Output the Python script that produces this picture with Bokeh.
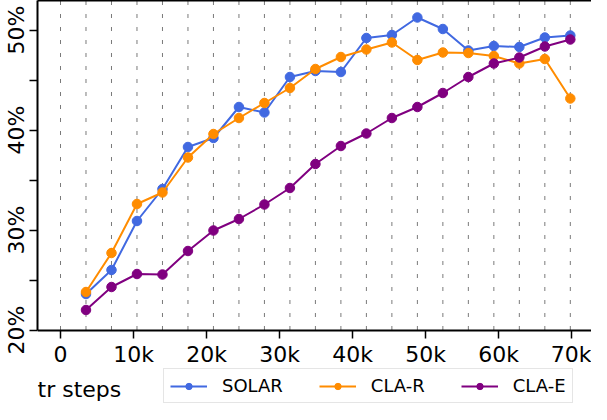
import math
from bokeh.plotting import figure
from bokeh.models import (Range1d, FixedTicker, PrintfTickFormatter, LinearAxis,
                          Legend, LegendItem, Label)
from bokeh.embed import file_html
from bokeh.resources import INLINE

# ---- data ----
steps = [3490, 6980, 10470, 13960, 17450, 20940, 24430, 27920, 31410, 34900,
         38390, 41880, 45370, 48860, 52350, 55840, 59330, 62820, 66310, 69800]
grid_steps = [0] + steps
solar = [23.6, 26.0, 30.9, 34.1, 38.3, 39.2, 42.3, 41.75, 45.3, 45.9,
         45.8, 49.2, 49.5, 51.25, 50.1, 47.95, 48.4, 48.3, 49.25, 49.45]
cla_r = [23.8, 27.7, 32.6, 33.75, 37.25, 39.6, 41.2, 42.7, 44.2, 46.1,
         47.3, 48.05, 48.75, 47.0, 47.75, 47.7, 47.4, 46.65, 47.1, 43.15]
cla_e = [22.0, 24.3, 25.6, 25.55, 27.9, 29.95, 31.1, 32.55, 34.2, 36.6,
         38.4, 39.65, 41.2, 42.3, 43.7, 45.3, 46.65, 47.25, 48.35, 49.05]
series_names = ["SOLAR", "CLA-R", "CLA-E"]
series_colors = ["#4169E1", "#FF8C00", "#800080"]
x_ticks = [0, 10000, 20000, 30000, 40000, 50000, 60000, 70000]
x_tick_labels = ["0", "10k", "20k", "30k", "40k", "50k", "60k", "70k"]
y_ticks = [20, 30, 40, 50]
y_minor_ticks = [25, 35, 45]
x_label = "tr steps"

FONT = "DejaVu Sans"
Y_AXIS_AT = 20.0   # x axis sits at 20%
Y_LO, Y_HI = 12.55, 52.95
X_LO, X_HI = -3150, 72700

p = figure(width=591, height=404, x_range=Range1d(X_LO, X_HI), y_range=Range1d(Y_LO, Y_HI),
           output_backend="svg", toolbar_location=None,
           min_border_left=0, min_border_right=0, min_border_top=0, min_border_bottom=0)
p.outline_line_color = None
p.background_fill_color = "white"
p.border_fill_color = "white"

# x axis (fixed at 20%)
xa = p.below[0]
xa.fixed_location = Y_AXIS_AT
xa.ticker = FixedTicker(ticks=x_ticks)
xa.major_label_overrides = {t: l for t, l in zip(x_ticks, x_tick_labels)}
xa.major_label_text_font = FONT
xa.major_label_text_font_size = "22px"
xa.major_label_text_color = "black"
xa.major_label_standoff = 4
xa.major_tick_out = 8
xa.major_tick_in = 0
xa.major_tick_line_width = 1.5
xa.minor_tick_line_color = None
xa.axis_line_width = 2

# y axis
ya = p.left[0]
ya.bounds = (Y_AXIS_AT, Y_HI)
ya.ticker = FixedTicker(ticks=y_ticks, minor_ticks=y_minor_ticks)
ya.formatter = PrintfTickFormatter(format="%d%%")
ya.major_label_orientation = "parallel"
ya.major_label_text_font = FONT
ya.major_label_text_font_size = "22px"
ya.major_label_text_color = "black"
ya.major_label_standoff = 1
ya.major_tick_out = 8
ya.major_tick_in = 0
ya.minor_tick_out = 8
ya.minor_tick_in = 0
ya.major_tick_line_width = 1.5
ya.minor_tick_line_width = 1.5
ya.axis_line_width = 2

# top spine
top = LinearAxis(ticker=FixedTicker(ticks=[]), major_label_text_font_size="0px",
                 major_tick_line_color=None, minor_tick_line_color=None,
                 axis_line_width=2, major_label_standoff=0)
p.add_layout(top, "above")

# grids: vertical dashed lines at each evaluation step, only inside the axes box
p.ygrid.grid_line_color = None
p.xgrid.grid_line_color = None
p.segment(x0=grid_steps, y0=[Y_AXIS_AT] * len(grid_steps),
          x1=grid_steps, y1=[Y_HI] * len(grid_steps),
          line_color="#7a7a7a", line_width=1, line_dash="4 9")

items = []
for name, vals, col in zip(series_names, [solar, cla_r, cla_e], series_colors):
    l = p.line(steps, vals, line_color=col, line_width=2)
    s = p.scatter(steps, vals, size=9.5, fill_color=col, line_color=col)
    items.append(LegendItem(label=name, renderers=[l, s]))

legend = Legend(items=items, orientation="horizontal", location=(126, 1),
                label_text_font=FONT, label_text_font_size="18px", label_text_color="black",
                glyph_width=37, glyph_height=16, label_height=16,
                label_standoff=15, spacing=36, padding=6, margin=0,
                border_line_color="#cccccc", border_line_width=1.5,
                background_fill_color="white", background_fill_alpha=0.9)
p.add_layout(legend)

p.add_layout(Label(x=0, y=15, x_units="screen", y_units="screen", text=x_label,
                   text_font=FONT, text_font_size="22px", text_color="black",
                   text_baseline="alphabetic", text_align="left"))

open("out.html", "w").write(file_html(p, INLINE))
